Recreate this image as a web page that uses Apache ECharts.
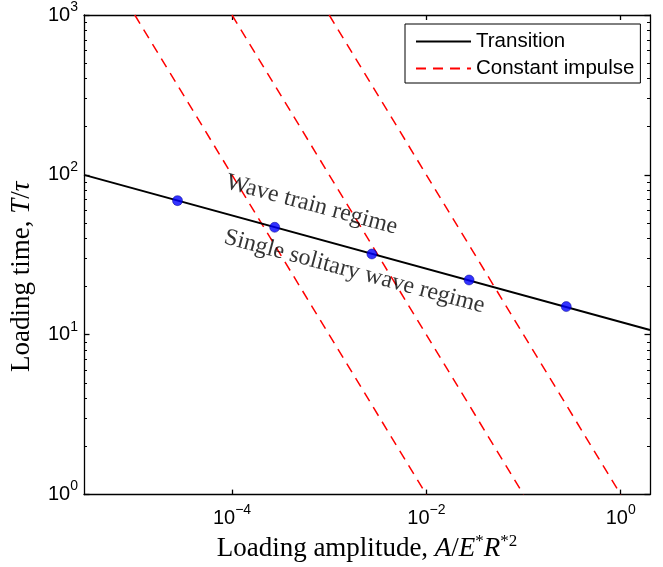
<!DOCTYPE html>
<html><head><meta charset="utf-8">
<script src="https://cdn.jsdelivr.net/npm/echarts@6/dist/echarts.min.js"></script>
<style>html,body{margin:0;padding:0;background:#fff}#c{width:663px;height:567px}</style>
</head><body><div id="c"></div>
<script>
// ---- data ----
const xRange = [3e-6, 2];
const yRange = [1, 1000];
const xTickValues = [1e-4, 1e-2, 1];
const yTickValues = [1, 10, 100, 1000];
const yMinorTickValues = [2,3,4,5,6,7,8,9,20,30,40,50,60,70,80,90,200,300,400,500,600,700,800,900];
const seriesNames = ['Transition', 'Constant impulse'];
const transitionX = [3e-6, 2];
const transitionY = [100, 10.7];
const pointX = [2.75e-5, 2.75e-4, 2.75e-3, 2.75e-2, 0.275];
const pointY = [69, 47, 32, 22, 15];
const impulseStartX = [1e-5, 1e-4, 1e-3];
const impulseEndX = [1e-2, 1e-1, 1];
const impulseY = [1000, 1];
const annotX = [6.6e-4, 1.82e-3];
const annotY = [65, 24.8];
const annotText = ['Wave train regime', 'Single solitary wave regime'];

// ---- styles ----
const SANS = 'Liberation Sans';
const SERIF = 'Liberation Serif';
const axisLineStyle = {color: '#000', width: 1.3};
const expLabel = v => {
  const e = Math.round(Math.log10(v));
  return '{b|10}{s|' + (e < 0 ? '\u2212' + (-e) : e) + '}';
};
const tickRich = {
  b: {fontFamily: SANS, fontSize: 20, color: '#000', lineHeight: 30},
  s: {fontFamily: SANS, fontSize: 14, color: '#000', lineHeight: 14, verticalAlign: 'top'}
};
const nameRich = {
  n: {fontFamily: SERIF, fontSize: 27, color: '#000', lineHeight: 30},
  i: {fontFamily: SERIF, fontSize: 27, fontStyle: 'italic', color: '#000', lineHeight: 30},
  s: {fontFamily: SERIF, fontSize: 17, color: '#000', lineHeight: 16, verticalAlign: 'top'}
};

const chart = echarts.init(document.getElementById('c'), null, {renderer: 'canvas'});

const series = [
  {
    type: 'line', name: seriesNames[0],
    data: transitionX.map((x, i) => [x, transitionY[i]]),
    symbol: 'none', color: '#000',
    lineStyle: {color: '#000', width: 2}, z: 3
  }
];
impulseStartX.forEach((x0, i) => {
  series.push({
    type: 'line', name: seriesNames[1],
    data: [[x0, impulseY[0]], [impulseEndX[i], impulseY[1]]],
    symbol: 'none', color: '#ff0000',
    lineStyle: {color: '#ff0000', width: 1.5, type: [10, 7]}, z: 2
  });
});
series.push({
  type: 'scatter', name: 'points',
  data: pointX.map((x, i) => [x, pointY[i]]),
  symbol: 'circle', symbolSize: 10,
  itemStyle: {color: '#0000ff', borderColor: '#00008b', borderWidth: 0.6}, z: 4
});
series.push({
  type: 'scatter', name: 'annotations',
  data: annotX.map((x, i) => ({value: [x, annotY[i]], label: {formatter: annotText[i]}})),
  symbolSize: 0, silent: true,
  label: {show: true, position: 'inside', rotate: -15, fontFamily: SERIF, fontSize: 24, color: '#000'},
  z: 5
});

const option = {
  animation: false,
  backgroundColor: '#fff',
  grid: {left: 84, right: 13, top: 15, bottom: 72, containLabel: false},
  legend: {
    data: seriesNames, orient: 'vertical', left: 405, top: 24,
    backgroundColor: '#fff', borderColor: '#000', borderWidth: 1, borderRadius: 0,
    padding: [7, 6, 4, 10], itemWidth: 55, itemHeight: 14, itemGap: 6,
    selectedMode: false,
    itemStyle: {opacity: 0, color: 'transparent', borderWidth: 0},
    textStyle: {fontFamily: SANS, fontSize: 20.5, color: '#000', lineHeight: 20}
  },
  xAxis: [
    {
      type: 'log', logBase: 10, min: xRange[0], max: xRange[1], position: 'bottom',
      axisLine: {show: true, lineStyle: axisLineStyle},
      axisTick: {show: true, inside: true, length: 5, customValues: xTickValues, lineStyle: axisLineStyle},
      axisLabel: {customValues: xTickValues, formatter: expLabel, rich: tickRich, margin: 9},
      splitLine: {show: false}, minorTick: {show: false},
      name: '{n|Loading amplitude, }{i|A}{n|/}{i|E}{s|*}{i|R}{s|*2}',
      nameLocation: 'middle', nameGap: 37,
      nameTextStyle: {rich: nameRich}
    },
    {
      type: 'log', logBase: 10, min: xRange[0], max: xRange[1], position: 'top',
      axisLine: {show: true, lineStyle: axisLineStyle},
      axisTick: {show: true, inside: true, length: 5, customValues: xTickValues, lineStyle: axisLineStyle},
      axisLabel: {show: false}, splitLine: {show: false}
    }
  ],
  yAxis: [
    {
      type: 'log', logBase: 10, min: yRange[0], max: yRange[1], position: 'left',
      axisLine: {show: true, lineStyle: axisLineStyle},
      axisTick: {show: true, inside: true, length: 5.5, customValues: yTickValues, lineStyle: axisLineStyle},
      axisLabel: {customValues: yTickValues, formatter: expLabel, rich: tickRich, margin: 6},
      splitLine: {show: false}, minorTick: {show: false},
      name: '{n|Loading time, }{i|T}{n|/}{i|\u03c4}',
      nameLocation: 'middle', nameGap: 47,
      nameTextStyle: {rich: nameRich, padding: [0, 44, 0, 0]}
    },
    {
      type: 'log', logBase: 10, min: yRange[0], max: yRange[1], position: 'right',
      axisLine: {show: true, lineStyle: axisLineStyle},
      axisTick: {show: true, inside: true, length: 5.5, customValues: yTickValues, lineStyle: axisLineStyle},
      axisLabel: {show: false}, splitLine: {show: false}
    },
    {
      type: 'log', logBase: 10, min: yRange[0], max: yRange[1], position: 'left',
      axisLine: {show: false},
      axisTick: {show: true, inside: true, length: 3, customValues: yMinorTickValues, lineStyle: {color: '#000', width: 1}},
      axisLabel: {show: false}, splitLine: {show: false}
    },
    {
      type: 'log', logBase: 10, min: yRange[0], max: yRange[1], position: 'right',
      axisLine: {show: false},
      axisTick: {show: true, inside: true, length: 3, customValues: yMinorTickValues, lineStyle: {color: '#000', width: 1}},
      axisLabel: {show: false}, splitLine: {show: false}
    }
  ],
  series: series
};
chart.setOption(option);
</script>
</body></html>
